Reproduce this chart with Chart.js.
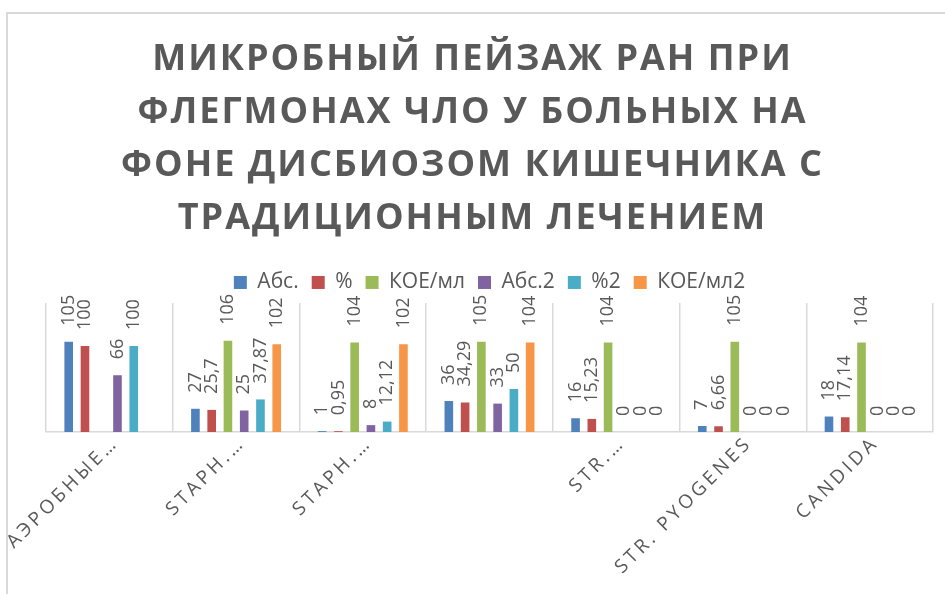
<!DOCTYPE html>
<html>
<head>
<meta charset="utf-8">
<script src="https://cdn.jsdelivr.net/npm/chart.js@4.4.1/dist/chart.umd.min.js"></script>
<style>
html,body{margin:0;padding:0;background:#fff;}
#wrap{position:relative;width:945px;height:594px;overflow:hidden;}
#frame{position:absolute;left:6px;top:12px;width:2000px;height:2000px;border-left:2px solid #d9d9d9;border-top:2px solid #d9d9d9;pointer-events:none;}
canvas{position:absolute;left:0;top:0;}
</style>
</head>
<body>
<div id="wrap">
<canvas id="c" width="945" height="594"></canvas>
<div id="frame"></div>
</div>
<script>
const titleLines = [
  "МИКРОБНЫЙ ПЕЙЗАЖ РАН ПРИ",
  "ФЛЕГМОНАХ ЧЛО У БОЛЬНЫХ НА",
  "ФОНЕ ДИСБИОЗОМ КИШЕЧНИКА С",
  "ТРАДИЦИОННЫМ ЛЕЧЕНИЕМ"
];
const categories = ["АЭРОБНЫЕ…", "STAPH.…", "STAPH.…", "", "STR.…", "STR. PYOGENES", "CANDIDA"];
const seriesNames = ["Абс.", "%", "КОЕ/мл", "Абс.2", "%2", "КОЕ/мл2"];
const abs1  = [105, 27, 1, 36, 16, 7, 18];
const pct1  = [100, 25.7, 0.95, 34.29, 15.23, 6.66, 17.14];
const koe1  = [null, 106, 104, 105, 104, 105, 104];
const abs2  = [66, 25, 8, 33, 0, 0, 0];
const pct2  = [100, 37.87, 12.12, 50, 0, 0, 0];
const koe2  = [null, 102, 102, 104, 0, 0, 0];
const colors = ["#4F81BD", "#C0504D", "#9BBB59", "#8064A2", "#4BACC6", "#F79646"];

const FONT = '"Open Sans", "DejaVu Sans", sans-serif';
const GREY = '#595959';

const barLabels = {
  id: 'barLabels',
  afterDatasetsDraw(chart) {
    const ctx = chart.ctx;
    ctx.save();
    ctx.font = '18px ' + FONT;
    ctx.fillStyle = GREY;
    ctx.textAlign = 'left';
    ctx.textBaseline = 'middle';
    chart.data.datasets.forEach((ds, i) => {
      const meta = chart.getDatasetMeta(i);
      meta.data.forEach((bar, j) => {
        const v = ds.data[j];
        if (v === null || v === undefined) return;
        ctx.save();
        ctx.translate(bar.x, bar.y - 16);
        ctx.rotate(-Math.PI / 2);
        ctx.fillText(String(v).replace('.', ','), 0, 0);
        ctx.restore();
      });
    });
    ctx.restore();
  }
};

const spacing = {
  id: 'spacing',
  beforeDraw(chart) {
    const s = chart.scales.x;
    if (s && !s._ls) {
      s._ls = true;
      const o = s.drawLabels.bind(s);
      s.drawLabels = function (a) { const c = this.ctx; c.save(); c.letterSpacing = '3.5px'; o(a); c.restore(); };
    }
    const t = chart.titleBlock;
    if (t && !t._ls) {
      t._ls = true;
      const o2 = t.draw.bind(t);
      t.draw = function (a) { const c = this.ctx; c.save(); c.letterSpacing = '2px'; o2(a); c.restore(); };
    }
  }
};

const dataSets = [abs1, pct1, koe1, abs2, pct2, koe2].map((d, i) => ({
  label: seriesNames[i],
  data: d,
  backgroundColor: colors[i],
  borderWidth: 0,
  categoryPercentage: 0.77,
  barPercentage: 0.53
}));

const chart = new Chart(document.getElementById('c'), {
  type: 'bar',
  data: { labels: categories, datasets: dataSets },
  plugins: [barLabels, spacing],
  options: {
    responsive: false,
    devicePixelRatio: 1,
    animation: false,
    layout: { padding: { left: 12, right: 12, top: 0, bottom: 0 } },
    plugins: {
      title: {
        display: true,
        text: titleLines,
        color: GREY,
        font: { family: FONT, size: 36, weight: 'bold', lineHeight: 1.472 },
        padding: { top: 33, bottom: 14 }
      },
      legend: {
        display: true,
        position: 'top',
        fullSize: false,
        labels: {
          color: GREY,
          font: { family: FONT, size: 21 },
          boxWidth: 13,
          boxHeight: 13,
          padding: 13
        }
      },
      tooltip: { enabled: false }
    },
    scales: {
      x: {
        grid: { color: '#d9d9d9', lineWidth: 1.5, drawTicks: false, offset: true },
        border: { color: '#d9d9d9', width: 1.5 },
        ticks: {
          color: GREY,
          font: { family: FONT, size: 19 },
          minRotation: 45,
          maxRotation: 45,
          autoSkip: false,
          padding: 0,
          labelOffset: 6
        },
        afterFit(s) { s.height = 162; }
      },
      y: {
        display: true,
        min: 0,
        max: 150,
        ticks: { display: false },
        grid: { display: false },
        border: { display: false },
        afterFit(s) { s.width = 34; }
      }
    }
  }
});
chart.draw();
</script>
</body>
</html>
